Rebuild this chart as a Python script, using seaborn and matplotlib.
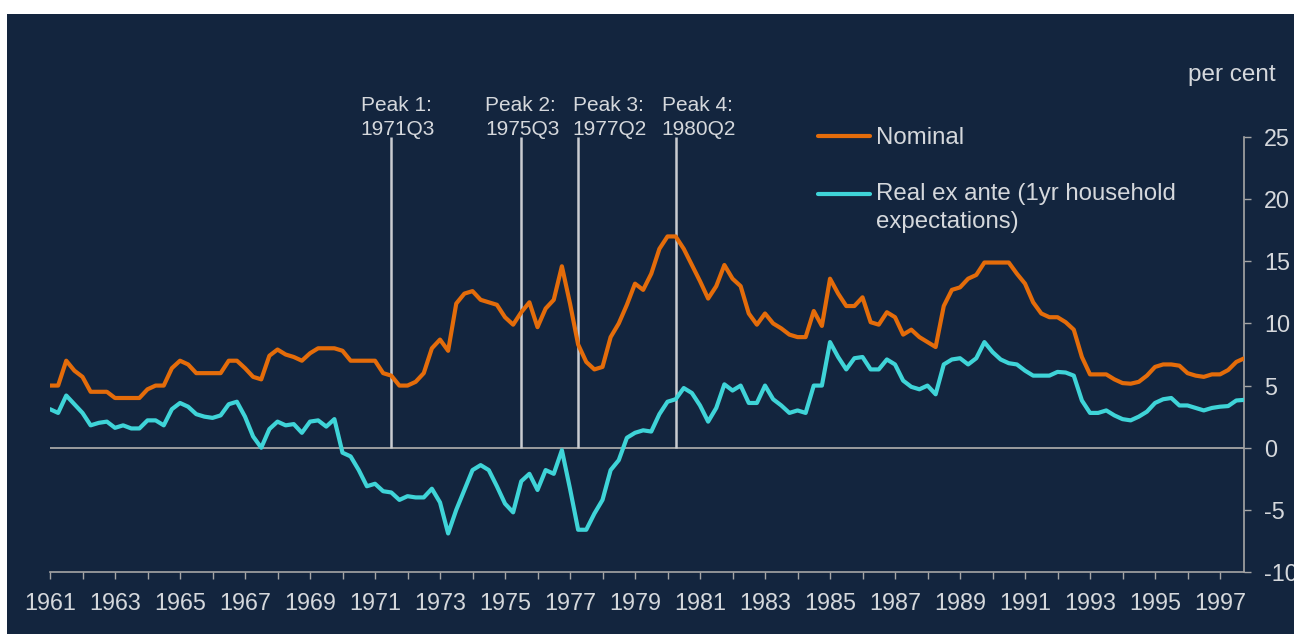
import numpy as np
import pandas as pd
import matplotlib.pyplot as plt
from matplotlib.patches import Rectangle
import seaborn as sns

## Quarterly data, 1961Q1 - 1997Q4 (per cent)

years = list(range(1961, 1998))

nominal = [5.0, 5.0, 7.0, 6.2,   5.7, 4.5, 4.5, 4.5,   4.0, 4.0, 4.0, 4.0,
           4.7, 5.0, 5.0, 6.4,   7.0, 6.7, 6.0, 6.0,   6.0, 6.0, 7.0, 7.0,
           6.4, 5.7, 5.5, 7.4,   7.9, 7.5, 7.3, 7.0,   7.6, 8.0, 8.0, 8.0,
           7.8, 7.0, 7.0, 7.0,   7.0, 6.0, 5.8, 5.0,   5.0, 5.3, 6.0, 8.0,
           8.7, 7.8, 11.6, 12.4, 12.6, 11.9, 11.7, 11.5, 10.5, 9.9, 10.9, 11.7,
           9.7, 11.2, 11.9, 14.6, 11.6, 8.3, 6.9, 6.3,  6.5, 8.9, 10.0, 11.5,
           13.2, 12.7, 14.0, 16.0, 17.0, 17.0, 16.0, 14.7, 13.4, 12.0, 13.0, 14.7,
           13.6, 13.0, 10.8, 9.9, 10.8, 10.0, 9.6, 9.1,  8.9, 8.9, 11.0, 9.8,
           13.6, 12.4, 11.4, 11.4, 12.1, 10.1, 9.9, 10.9, 10.5, 9.1, 9.5, 8.9,
           8.5, 8.1, 11.4, 12.7, 12.9, 13.6, 13.9, 14.9, 14.9, 14.9, 14.9, 14.0,
           13.2, 11.7, 10.8, 10.5, 10.5, 10.1, 9.5, 7.3,  5.9, 5.9, 5.9, 5.5,
           5.2, 5.15, 5.3, 5.8,  6.5, 6.7, 6.7, 6.6,   6.0, 5.8, 5.7, 5.9,
           5.9, 6.25, 6.9, 7.2]

real_ex_ante = [3.1, 2.8, 4.2, 3.5,   2.8, 1.8, 2.0, 2.1,   1.6, 1.8, 1.55, 1.55,
                2.2, 2.2, 1.8, 3.1,   3.6, 3.3, 2.7, 2.5,   2.4, 2.6, 3.5, 3.7,
                2.5, 0.9, 0.0, 1.5,   2.1, 1.8, 1.9, 1.2,   2.1, 2.2, 1.7, 2.3,
                -0.4, -0.7, -1.8, -3.1, -2.9, -3.5, -3.6, -4.2, -3.9, -4.0, -4.0, -3.3,
                -4.4, -6.9, -5.0, -3.4, -1.8, -1.4, -1.8, -3.1, -4.5, -5.2, -2.7, -2.1,
                -3.4, -1.8, -2.1, -0.2, -3.3, -6.6, -6.6, -5.3, -4.2, -1.8, -1.0, 0.8,
                1.2, 1.4, 1.3, 2.7,   3.7, 3.9, 4.8, 4.4,   3.4, 2.1, 3.2, 5.1,
                4.6, 5.0, 3.6, 3.6,   5.0, 3.9, 3.4, 2.8,   3.0, 2.8, 5.0, 5.0,
                8.5, 7.3, 6.3, 7.2,   7.3, 6.3, 6.3, 7.1,   6.7, 5.4, 4.9, 4.7,
                5.0, 4.3, 6.7, 7.1,   7.2, 6.7, 7.2, 8.5,   7.7, 7.1, 6.8, 6.7,
                6.2, 5.8, 5.8, 5.8,   6.1, 6.05, 5.8, 3.8,  2.8, 2.8, 3.0, 2.6,
                2.3, 2.2, 2.5, 2.9,   3.6, 3.9, 4.0, 3.4,   3.4, 3.2, 3.0, 3.2,
                3.3, 3.35, 3.8, 3.85]

series_names = ['Nominal', 'Real ex ante (1yr household\nexpectations)']
peak_quarters = ['1971Q3', '1975Q3', '1977Q2', '1980Q2']
peak_labels = ['Peak 1:\n1971Q3', 'Peak 2:\n1975Q3', 'Peak 3:\n1977Q2', 'Peak 4:\n1980Q2']
# horizontal nudge of each peak label (points, relative to its line)
peak_nudge = [-22, -26, -4, -10]

navy = '#13253e'
orange = '#e46c0a'
cyan = '#3fd4d8'
textc = '#d5d8dc'
axisc = '#a6a6a6'


def qpos(q):
    # position of a quarter on a year axis, e.g. 1971Q3 -> 1971.5
    return int(q[:4]) + (int(q[-1]) - 1) / 4


quarters = [f'{y}Q{q}' for y in years for q in range(1, 5)]
df = pd.DataFrame({
    'quarter': quarters * 2,
    'value': nominal + real_ex_ante,
    'series': [series_names[0]] * len(nominal) + [series_names[1]] * len(real_ex_ante),
})
df['x'] = df['quarter'].map(qpos)

sns.set_style('white')
plt.rcParams['font.family'] = ['Liberation Sans', 'DejaVu Sans']
plt.rcParams['axes.unicode_minus'] = False

fig = plt.figure(figsize=(12.94, 6.34), dpi=100)
fig.patch.set_facecolor('white')
fig.add_artist(Rectangle((7 / 1294, 0), 1, 620 / 634, transform=fig.transFigure,
                         facecolor=navy, edgecolor='none', zorder=-10))

ax = fig.add_axes([50 / 1294, 1 - 572 / 634, 1194.4 / 1294, (572 - 137) / 634])
ax.set_facecolor(navy)

# zero line and peak markers behind the data
ax.axhline(0, color=axisc, lw=1.3, zorder=1)
ax.vlines([qpos(q) for q in peak_quarters], 0, 25, color='#c9ccd1', lw=1.8, zorder=1)
for q, lab, dx in zip(peak_quarters, peak_labels, peak_nudge):
    ax.annotate(lab, xy=(qpos(q), 25), xytext=(dx, -1.5), textcoords='offset points',
                ha='left', va='bottom', color=textc, fontsize=15,
                linespacing=1.37, annotation_clip=False)

sns.lineplot(data=df, x='x', y='value', hue='series', hue_order=series_names,
             palette=[orange, cyan], lw=3, ax=ax, zorder=3)

ax.set_xlim(1961, 1997.75)
ax.set_ylim(-10, 25)
ax.set_xlabel('')
ax.set_ylabel('')

ax.set_xticks(years)
ax.set_xticklabels([str(y) if (y - 1961) % 2 == 0 else '' for y in years])
ax.yaxis.tick_right()
ax.set_yticks(np.arange(-10, 30, 5))

for s in ['left', 'top']:
    ax.spines[s].set_visible(False)
for s in ['right', 'bottom']:
    ax.spines[s].set_color(axisc)
    ax.spines[s].set_linewidth(1.2)

ax.tick_params(axis='x', direction='out', length=5, width=1, color=axisc,
               labelcolor=textc, labelsize=16.8, pad=9.5, bottom=True)
ax.tick_params(axis='y', direction='out', length=5, width=1, color=axisc,
               labelcolor=textc, labelsize=16.8, pad=9, right=True, left=False)
for lab in ax.get_yticklabels():
    lab.set_horizontalalignment('left')

# legend
handles, labels = ax.get_legend_handles_labels()
leg = ax.legend(handles, labels, loc='upper left',
                bbox_to_anchor=(818 / 1294, 1 - 127 / 634), bbox_transform=fig.transFigure,
                frameon=False, borderpad=0, borderaxespad=0, handlelength=2.15,
                handletextpad=0.25, labelspacing=1.4, fontsize=17.3, labelcolor=textc)
for t in leg.get_texts():
    t.set_linespacing(1.35)
for ln in leg.get_lines():
    ln.set_linewidth(3)
ln = leg.get_lines()[1]
ln.set_ydata(np.asarray(ln.get_ydata()) + 9.7)

fig.text(1232 / 1294, 1 - 75 / 634, 'per cent', ha='center', va='center',
         color=textc, fontsize=17.5)

fig.savefig('out.png', dpi=100, facecolor=fig.get_facecolor())
